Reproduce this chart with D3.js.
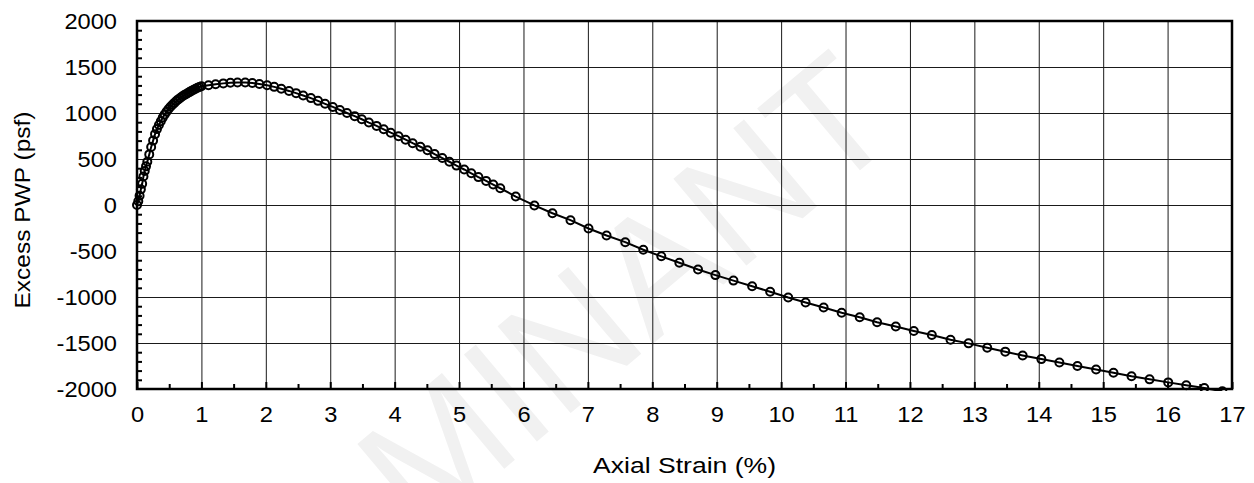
<!DOCTYPE html>
<html>
<head>
<meta charset="utf-8">
<script src="https://cdn.jsdelivr.net/npm/d3@7"></script>
<style>
  body { margin: 0; background: #fff; }
  svg text { font-family: 'Liberation Sans', Arial, sans-serif; fill: #000; }
</style>
</head>
<body>
<svg id="chart" width="1254" height="483"></svg>
<script>
// axial strain (%)
const strain = [
  0, 0.02, 0.04, 0.06, 0.08, 0.10, 0.12, 0.14, 0.16, 0.19,
  0.22, 0.25, 0.28, 0.31, 0.34, 0.37, 0.40, 0.43, 0.46, 0.49,
  0.52, 0.55, 0.58, 0.61, 0.64, 0.67, 0.70, 0.73, 0.76, 0.79,
  0.82, 0.85, 0.88, 0.91, 0.94, 0.97, 1.00,
  1.11, 1.22, 1.34, 1.45, 1.56, 1.68, 1.79, 1.90, 2.02, 2.13,
  2.24, 2.36, 2.47, 2.58, 2.70, 2.81, 2.92, 3.04, 3.15, 3.26,
  3.38, 3.49, 3.60, 3.72, 3.83, 3.94, 4.06, 4.17, 4.28, 4.40,
  4.51, 4.62, 4.74, 4.85, 4.96, 5.08, 5.19, 5.30, 5.42, 5.53,
  5.64,
  5.88, 6.17, 6.45, 6.73, 7.01, 7.29, 7.58, 7.86, 8.14, 8.42,
  8.71, 8.98, 9.26, 9.55, 9.83, 10.11, 10.38, 10.66, 10.94, 11.22,
  11.49, 11.78, 12.06, 12.34, 12.63, 12.91, 13.20, 13.48, 13.75, 14.04,
  14.32, 14.60, 14.89, 15.16, 15.44, 15.72, 16.01, 16.29, 16.57, 16.85
]

// excess pore water pressure (psf)
const pwp = [
  0, 40, 100, 170, 230, 310, 370, 420, 470, 550,
  630, 700, 770, 825, 870, 910, 950, 985, 1015, 1043,
  1068, 1090, 1110, 1130, 1148, 1164, 1179, 1192, 1205, 1218,
  1230, 1242, 1253, 1264, 1274, 1283, 1291,
  1302, 1313, 1322, 1328, 1331, 1331, 1326, 1316, 1302, 1284,
  1263, 1240, 1216, 1190, 1162, 1132, 1100, 1066, 1033, 1000,
  966, 932, 896, 860, 823, 786, 748, 710, 672, 633,
  595, 553, 510, 470, 428, 386, 345, 303, 262, 222,
  182,
  92, -5, -90, -165, -255, -332, -404, -486, -558, -627,
  -701, -762, -822, -884, -943, -1005, -1060, -1114, -1172, -1220,
  -1274, -1321, -1369, -1413, -1465, -1504, -1552, -1594, -1635, -1675,
  -1712, -1750, -1788, -1824, -1862, -1895, -1928, -1960, -1990, -2025
]

const xTicks = [0, 1, 2, 3, 4, 5, 6, 7, 8, 9, 10, 11, 12, 13, 14, 15, 16, 17]
const yTicks = [-2000, -1500, -1000, -500, 0, 500, 1000, 1500, 2000]
const xTitle = 'Axial Strain (%)'
const yTitle = 'Excess PWP (psf)'
const watermark = 'MINANT'

const plot = { left: 137, right: 1232, top: 21, bottom: 389 }
const plotH = plot.bottom - plot.top
const plotW = plot.right - plot.left

const x = d3.scaleLinear().domain([0, 17]).range([plot.left, plot.right])
const y = d3.scaleLinear().domain([-2000, 2000]).range([plot.bottom, plot.top])

const svg = d3.select('#chart')
const points = strain.map((s, i) => ({ s, p: pwp[i] }))

// faint watermark behind everything
svg.append('text')
  .attr('transform', 'translate(625,292) rotate(-40)')
  .attr('text-anchor', 'middle')
  .attr('dy', '0.35em')
  .style('font-size', '165px')
  .style('fill', '#f1f1f1')
  .text(watermark)

// gridlines
svg.append('g')
  .attr('transform', `translate(0,${plot.bottom})`)
  .call(d3.axisBottom(x).tickValues(xTicks).tickSize(-plotH).tickFormat(''))
  .call(g => g.select('.domain').remove())
  .selectAll('line').attr('stroke', '#1a1a1a').attr('stroke-width', 1)

svg.append('g')
  .attr('transform', `translate(${plot.left},0)`)
  .call(d3.axisLeft(y).tickValues(yTicks).tickSize(-plotW).tickFormat(''))
  .call(g => g.select('.domain').remove())
  .selectAll('line').attr('stroke', '#1a1a1a').attr('stroke-width', 1)

// inward tick marks
svg.append('g')
  .attr('transform', `translate(0,${plot.bottom})`)
  .call(d3.axisBottom(x).tickValues(d3.range(0.5, 17, 1)).tickSize(-5).tickFormat(''))
  .call(g => g.select('.domain').remove())
  .selectAll('line').attr('stroke', '#000').attr('stroke-width', 2)

svg.append('g')
  .attr('transform', `translate(0,${plot.bottom})`)
  .call(d3.axisBottom(x).tickValues(xTicks).tickSize(-7).tickFormat(''))
  .call(g => g.select('.domain').remove())
  .selectAll('line').attr('stroke', '#000').attr('stroke-width', 2)

svg.append('g')
  .attr('transform', `translate(${plot.left},0)`)
  .call(d3.axisLeft(y).tickValues(d3.range(-1900, 2000, 100).filter(v => v % 500 !== 0)).tickSize(-5).tickFormat(''))
  .call(g => g.select('.domain').remove())
  .selectAll('line').attr('stroke', '#000').attr('stroke-width', 2)

// frame
svg.append('rect')
  .attr('x', plot.left).attr('y', plot.top)
  .attr('width', plotW).attr('height', plotH)
  .attr('fill', 'none').attr('stroke', '#000').attr('stroke-width', 2.5)

// tick labels (plain hyphen for negatives, as in the source)
svg.append('g')
  .attr('transform', `translate(0,${plot.bottom})`)
  .call(d3.axisBottom(x).tickValues(xTicks).tickSize(0).tickFormat(d => String(d)))
  .call(g => g.select('.domain').remove())
  .selectAll('text')
  .attr('y', null).attr('dy', null)
  .attr('transform', 'translate(0,33) scale(1.1,1)')
  .style('font-size', '21.5px')

svg.append('g')
  .attr('transform', `translate(${plot.left},0)`)
  .call(d3.axisLeft(y).tickValues(yTicks).tickSize(0).tickFormat(d => String(d)))
  .call(g => g.select('.domain').remove())
  .selectAll('text')
  .attr('x', null).attr('dy', null)
  .attr('text-anchor', 'end')
  .attr('transform', 'translate(-20,7.7) scale(1.1,1)')
  .style('font-size', '21.5px')

// axis titles
svg.append('text')
  .attr('x', (plot.left + plot.right) / 2).attr('y', 473)
  .attr('text-anchor', 'middle')
  .attr('textLength', 183).attr('lengthAdjust', 'spacingAndGlyphs')
  .style('font-size', '22px')
  .text(xTitle)

svg.append('text')
  .attr('transform', 'translate(30,210) rotate(-90) scale(1.14,1)')
  .attr('text-anchor', 'middle')
  .style('font-size', '21.5px')
  .text(yTitle)

// series, clipped to the plot box
svg.append('clipPath').attr('id', 'clip')
  .append('rect')
  .attr('x', plot.left - 6).attr('y', plot.top - 6)
  .attr('width', plotW + 12).attr('height', plotH + 8)

const series = svg.append('g').attr('clip-path', 'url(#clip)')

series.append('path')
  .datum(points)
  .attr('fill', 'none')
  .attr('stroke', '#000')
  .attr('stroke-width', 2)
  .attr('d', d3.line().x(d => x(d.s)).y(d => y(d.p)))

series.selectAll('circle')
  .data(points)
  .enter()
  .append('circle')
  .attr('cx', d => x(d.s))
  .attr('cy', d => y(d.p))
  .attr('r', 4)
  .attr('fill', 'none')
  .attr('stroke', '#000')
  .attr('stroke-width', 2)
</script>
</body>
</html>
